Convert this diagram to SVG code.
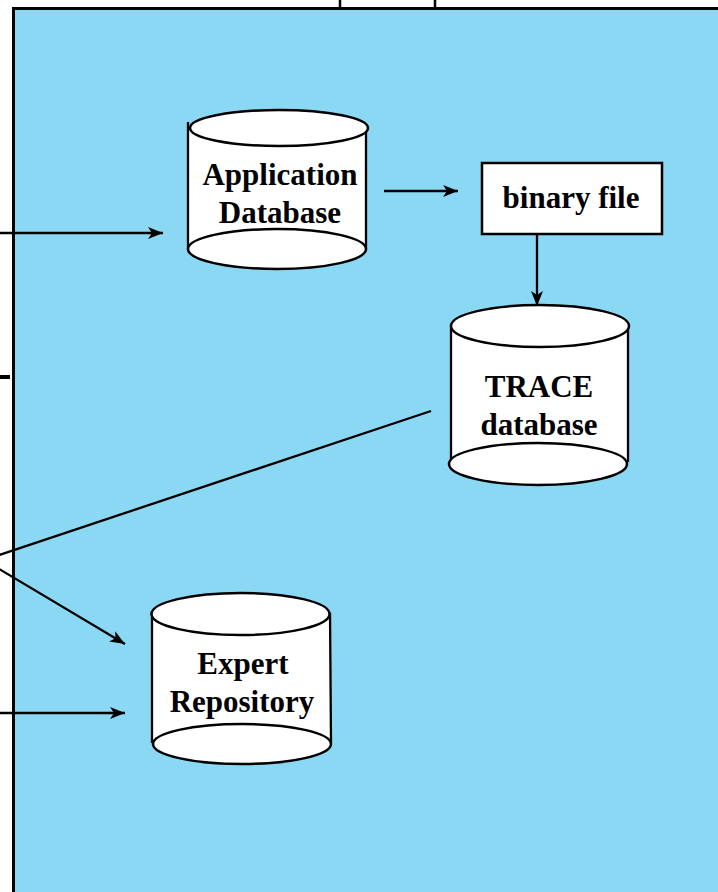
<svg xmlns="http://www.w3.org/2000/svg" width="718" height="892" viewBox="0 0 718 892">
<style>
.ln{stroke:#000;stroke-width:2.3;fill:none}
.sh{stroke:#000;stroke-width:2.5;fill:#fff}
.body{fill:#fff;stroke:none}
.t{font-family:"Liberation Serif","Times New Roman",serif;font-weight:bold;font-size:31px;fill:#000;text-anchor:middle}
</style>
<defs>
<marker id="ah" markerWidth="16" markerHeight="12" refX="15" refY="6" orient="auto" markerUnits="userSpaceOnUse">
<path d="M0,0 L15,6 L0,12 L4,6 z" fill="#000"/>
</marker>
</defs>
<g id="frame">
<rect x="13.5" y="8.5" width="720" height="900" fill="#8bd8f4" stroke="#000" stroke-width="3"/>
<line x1="340" y1="0" x2="340" y2="8" stroke="#000" stroke-width="2.5"/>
<line x1="435" y1="0" x2="435" y2="8" stroke="#000" stroke-width="2.5"/>
<line x1="0" y1="377" x2="10" y2="377" stroke="#000" stroke-width="4"/>
</g>
<g id="connectors">
<line class="ln" x1="0" y1="233" x2="163" y2="233" marker-end="url(#ah)"/>
<line class="ln" x1="384" y1="191" x2="458" y2="191" marker-end="url(#ah)"/>
<line class="ln" x1="537" y1="234" x2="537" y2="306" marker-end="url(#ah)"/>
<line class="ln" x1="431" y1="411" x2="-16" y2="560"/>
<line class="ln" x1="-16" y1="560" x2="125" y2="644" marker-end="url(#ah)"/>
<line class="ln" x1="0" y1="713" x2="125" y2="713" marker-end="url(#ah)"/>
</g>
<g id="app-db">
<rect class="body" x="188" y="129" width="178" height="120"/>
<line class="ln" x1="188" y1="122" x2="188" y2="250"/>
<line class="ln" x1="366" y1="129" x2="366" y2="249"/>
<ellipse class="sh" cx="277" cy="249" rx="89" ry="20"/>
<ellipse class="sh" cx="279" cy="128" rx="89" ry="18"/>
<text class="t" x="280" y="185">Application</text>
<text class="t" x="280" y="223">Database</text>
</g>
<g id="binary-file">
<rect class="sh" x="482" y="163" width="180" height="71"/>
<text class="t" x="571" y="208">binary file</text>
</g>
<g id="trace-db">
<rect class="body" x="451" y="326" width="177" height="138"/>
<line class="ln" x1="451" y1="326" x2="451" y2="462"/>
<line class="ln" x1="628" y1="326" x2="628" y2="462"/>
<ellipse class="sh" cx="538" cy="464" rx="89" ry="21"/>
<ellipse class="sh" cx="540" cy="326" rx="89" ry="21"/>
<text class="t" x="539" y="397">TRACE</text>
<text class="t" x="539" y="435">database</text>
</g>
<g id="expert-repo">
<rect class="body" x="152" y="614" width="178" height="130"/>
<line class="ln" x1="152" y1="613" x2="152" y2="743"/>
<line class="ln" x1="330" y1="613" x2="331" y2="743"/>
<ellipse class="sh" cx="242" cy="744" rx="89" ry="20"/>
<ellipse class="sh" cx="240.5" cy="614" rx="89" ry="21"/>
<text class="t" x="243" y="674">Expert</text>
<text class="t" x="242" y="712">Repository</text>
</g>
</svg>
